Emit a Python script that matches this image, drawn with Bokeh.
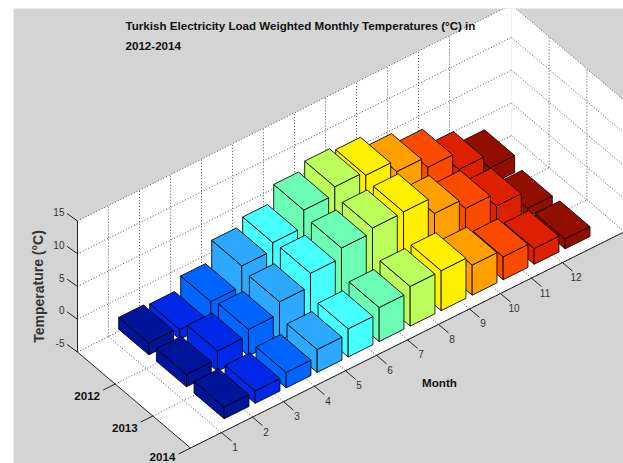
from bokeh.plotting import figure
from bokeh.models import Range1d
from bokeh.embed import file_html
from bokeh.resources import INLINE
from bokeh.core.properties import value

months = list(range(1, 13))
years = [2012, 2013, 2014]
temp_2012 = [1.8, 1.5, 3.4, 6.5, 7.7, 10.3, 11.5, 10.9, 9.1, 7.4, 4.7, 2.6]
temp_2013 = [1.9, 3.1, 4.05, 5.9, 7.9, 9.4, 10.1, 10.2, 7.6, 6.0, 4.0, 1.3]
temp_2014 = [1.8, 1.9, 2.35, 3.5, 4.3, 5.2, 6.05, 6.1, 4.6, 3.5, 2.4, 1.5]
temps = {2012: temp_2012, 2013: temp_2013, 2014: temp_2014}
z_ticks = [-5, 0, 5, 10, 15]
month_colors = ["#00149A", "#0028E6", "#0064FF", "#2CA8FF", "#48FFFF", "#6CFFB4",
                "#BCFF5C", "#FFF000", "#FFA000", "#FA4B00", "#DC2000", "#920F00"]
title_lines = ["Turkish Electricity Load Weighted Monthly Temperatures (°C) in", "2012-2014"]

M_LIM = (0, 14)
Y_LIM = (2011, 2014)
Z_LIM = (-5, 15)
BAR = 0.8


def proj(m, y, z):
    """Axonometric projection of (month, year, temperature) on the page."""
    sx = 190 + 31.0 * m + 37.67 * (y - 2014)
    sy = 447.5 - 15.45 * m + 32.0 * (y - 2014) - 6.55 * (z + 5)
    return sx, sy


def poly(pts):
    xy = [proj(*q) for q in pts]
    return [a for a, _ in xy], [b for _, b in xy]


p = figure(width=623, height=463, x_range=Range1d(13, 623), y_range=Range1d(463, 8),
           x_axis_type=None, y_axis_type=None, toolbar_location=None,
           output_backend="svg", min_border_left=13, min_border_right=0,
           min_border_top=8, min_border_bottom=0)
p.grid.visible = False
p.outline_line_color = None
p.background_fill_color = "#D4D4D4"
p.border_fill_color = "white"

m0, m1 = M_LIM
y0, y1 = Y_LIM
z0, z1 = Z_LIM

# white walls and floor
for pts in ([(m0, y0, z0), (m1, y0, z0), (m1, y0, z1), (m0, y0, z1)],
            [(m1, y0, z0), (m1, y1, z0), (m1, y1, z1), (m1, y0, z1)],
            [(m0, y0, z0), (m1, y0, z0), (m1, y1, z0), (m0, y1, z0)]):
    xs, ys = poly(pts)
    p.patch(xs, ys, fill_color="white", line_color=None)

# dotted grid
gx, gy = [], []


def seg(a, b):
    xs, ys = poly([a, b])
    gx.append(xs)
    gy.append(ys)


for z in z_ticks:
    seg((m0, y0, z), (m1, y0, z))
    seg((m1, y0, z), (m1, y1, z))
for m in months:
    seg((m, y0, z0), (m, y0, z1))
    seg((m, y0, z0), (m, y1, z0))
for y in years:
    seg((m1, y, z0), (m1, y, z1))
    seg((m0, y, z0), (m1, y, z0))
p.multi_line(gx, gy, line_color="#555555", line_width=1, line_dash="1 2")

# solid axis lines
ax, ay = [], []
for a, b in (((m0, y0, z0), (m0, y0, z1)), ((m0, y0, z0), (m0, y1, z0)), ((m0, y1, z0), (m1, y1, z0))):
    xs, ys = poly([a, b])
    ax.append(xs)
    ay.append(ys)
for z in z_ticks:
    x, y = proj(m0, y0, z)
    ax.append([x, x - 10.5])
    ay.append([y, y - 7.5])
for yr in years:
    x, y = proj(m0, yr, z0)
    ax.append([x, x - 12])
    ay.append([y, y + 6])
for m in months:
    x, y = proj(m, y1, z0)
    ax.append([x, x + 10])
    ay.append([y, y + 8.5])
p.multi_line(ax, ay, line_color="#222222", line_width=1)

# bars, far to near
h = BAR / 2
fx, fy, fc = [], [], []
for yr in years:
    for i in reversed(range(len(months))):
        m, t = months[i], temps[yr][i]
        l, r, b, f = m - h, m + h, yr - h, yr + h
        faces = ([(l, b, 0), (l, f, 0), (l, f, t), (l, b, t)],
                 [(l, f, 0), (r, f, 0), (r, f, t), (l, f, t)],
                 [(l, b, t), (l, f, t), (r, f, t), (r, b, t)])
        for pts in faces:
            xs, ys = poly(pts)
            fx.append(xs)
            fy.append(ys)
            fc.append(month_colors[i])
p.patches(fx, fy, fill_color=fc, line_color="black", line_width=1, line_alpha=0.85)

FONT = value("Liberation Sans")

# z tick labels
zx = [proj(m0, y0, z)[0] for z in z_ticks]
zy = [proj(m0, y0, z)[1] for z in z_ticks]
p.text(zx, zy, text=[str(z) for z in z_ticks], x_offset=-13, y_offset=-9, text_align="right",
       text_baseline="middle", text_font=FONT, text_font_size="10px", text_color="#333333")

# month tick labels
mx = [proj(m, y1, z0)[0] for m in months]
my = [proj(m, y1, z0)[1] for m in months]
p.text(mx, my, text=[str(m) for m in months], x_offset=13.5, y_offset=14.5, text_align="center",
       text_baseline="middle", text_font=FONT, text_font_size="10px", text_color="#333333")

# year tick labels (the last one kept just inside the page)
yx = [proj(m0, yr, z0)[0] for yr in years]
yy = [proj(m0, yr, z0)[1] for yr in years]
p.text(yx, yy, text=[str(yr) for yr in years], x_offset=-28, y_offset=[12, 12, 8.5], text_align="center",
       text_baseline="middle", text_font=FONT, text_font_style="bold", text_font_size="11.6px",
       text_color="#111111")

# titles
p.text([125, 125], [25, 45], text=title_lines, text_align="left", text_baseline="middle",
       text_font=FONT, text_font_style="bold", text_font_size="11.6px", text_color="#111111")
p.text([439], [382], text=["Month"], text_align="center", text_baseline="middle",
       text_font=FONT, text_font_style="bold", text_font_size="11.6px", text_color="#111111")
p.text([38], [286], text=["Temperature (°C)"], angle=1.5708, text_align="center",
       text_baseline="middle", text_font=FONT, text_font_style="bold", text_font_size="14px",
       text_color="#333333")

open("out.html", "w").write(file_html(p, INLINE))
